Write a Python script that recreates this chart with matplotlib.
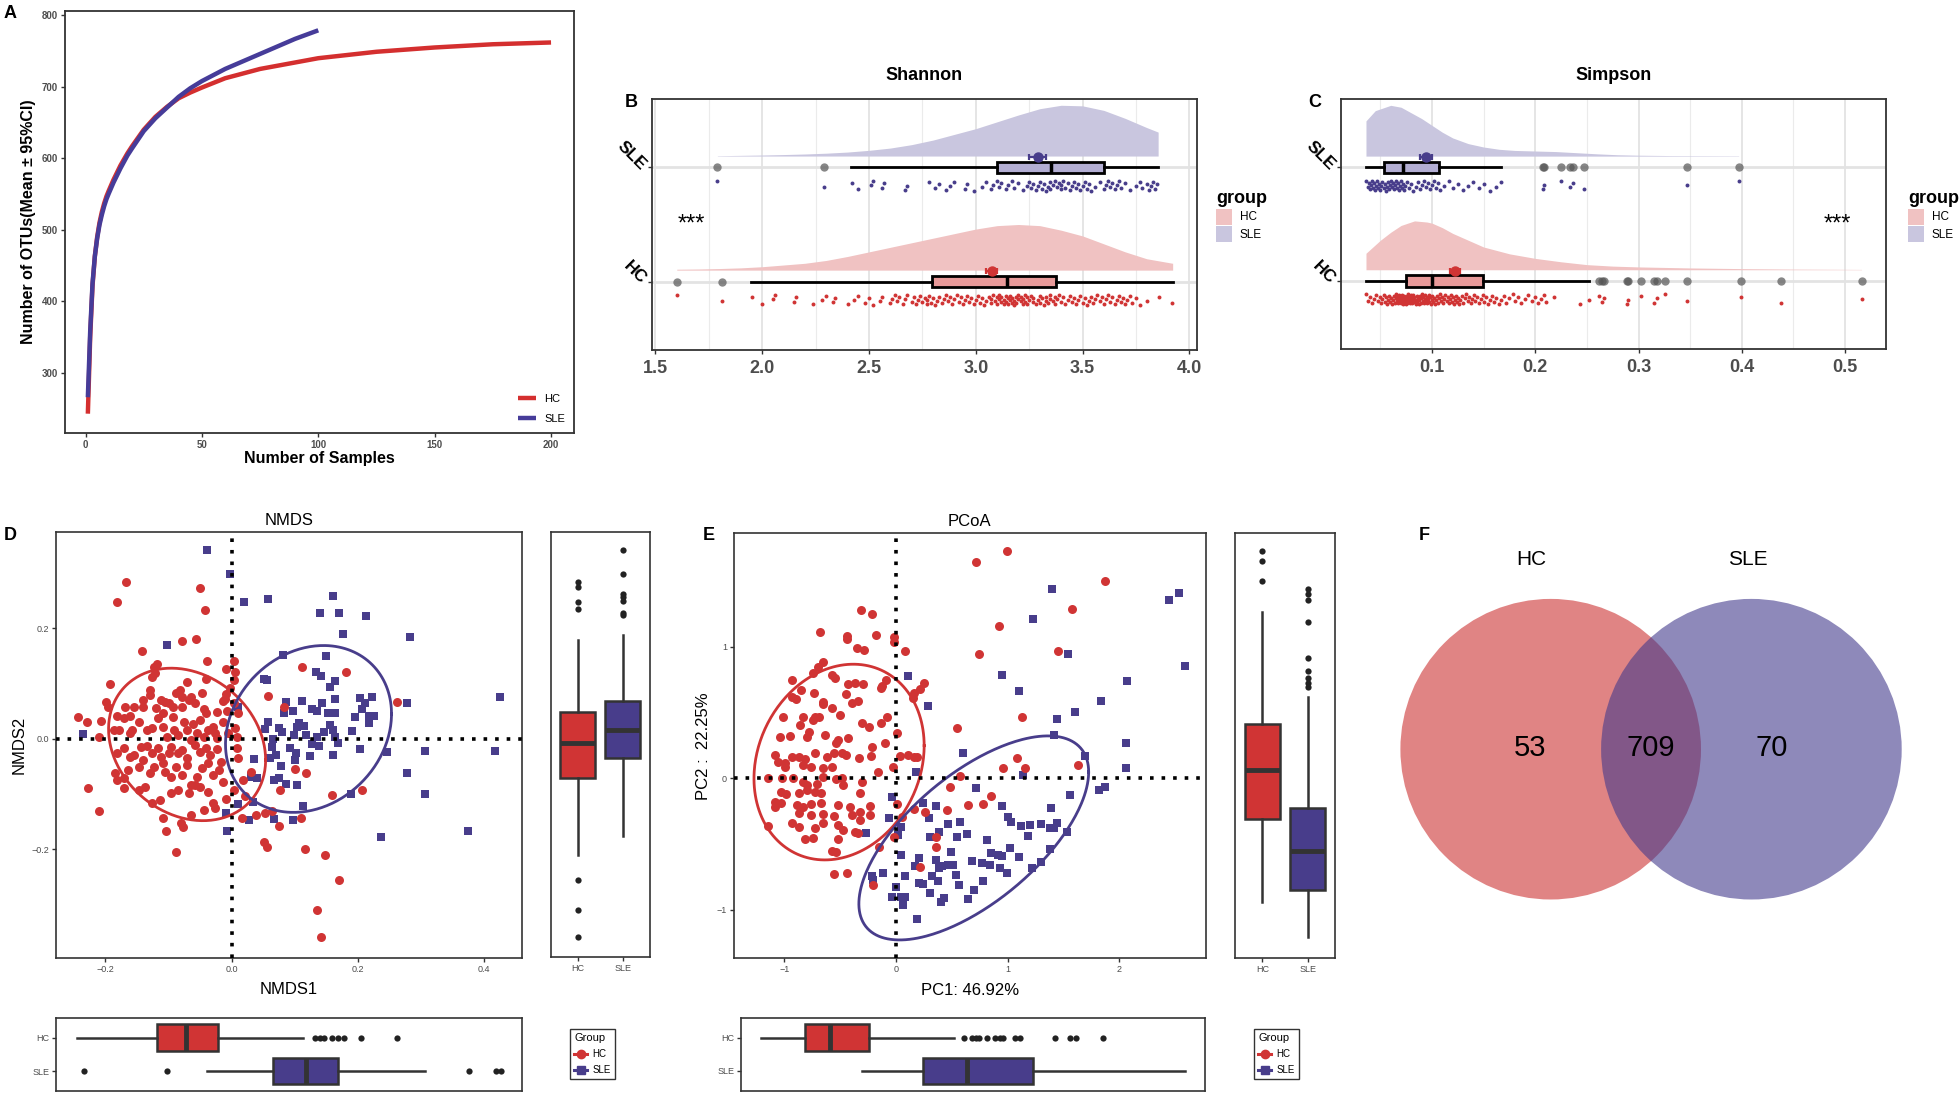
import numpy as np
import matplotlib
matplotlib.use('Agg')
import matplotlib.pyplot as plt
from matplotlib.patches import Patch, Circle
from matplotlib.lines import Line2D

plt.rcParams['font.family'] = ['Liberation Sans', 'DejaVu Sans']

# ---------------- DATA ----------------
groups = ['HC', 'SLE']

# A: rarefaction curves
rare_x_hc = [1, 2, 3, 4, 5, 6, 7, 8, 9, 10, 12, 15, 18, 20, 25, 30, 35, 40, 45, 50, 60, 75, 100, 125, 150,
             175, 200]
rare_hc = [243, 350, 422, 463, 490, 510, 525, 537, 547, 555, 570, 590, 607, 617, 640, 658, 672, 684, 692,
           699, 712, 725, 740, 749, 755, 759.5, 762]
rare_x_sle = [1, 2, 3, 4, 5, 6, 7, 8, 9, 10, 12, 15, 18, 20, 25, 30, 35, 40, 45, 50, 60, 75, 90, 100]
rare_sle = [266, 358, 425, 463, 488, 507, 521, 533, 543, 551, 566, 586, 604, 614, 638, 656, 671, 686, 698,
            708, 725, 746, 767, 779]

# B: Shannon
shannon_sle = [1.79, 2.29, 2.42, 2.45, 2.51, 2.52, 2.56, 2.57, 2.67, 2.68, 2.78, 2.81, 2.83, 2.86, 2.88,
               2.90, 2.95, 2.96, 2.99, 3.03, 3.05, 3.07, 3.08, 3.10, 3.11, 3.12, 3.14, 3.15, 3.17, 3.18,
               3.20, 3.22, 3.24, 3.25, 3.26, 3.27, 3.28, 3.29, 3.30, 3.31, 3.32, 3.33, 3.34, 3.35, 3.35,
               3.36, 3.37, 3.38, 3.39, 3.40, 3.40, 3.41, 3.42, 3.43, 3.44, 3.45, 3.46, 3.47, 3.48, 3.49,
               3.50, 3.51, 3.52, 3.53, 3.54, 3.56, 3.58, 3.60, 3.61, 3.62, 3.63, 3.64, 3.65, 3.66, 3.67,
               3.68, 3.70, 3.72, 3.75, 3.77, 3.78, 3.80, 3.81, 3.82, 3.83, 3.84, 3.85]
shannon_hc = [1.60, 1.81, 1.95, 2.00, 2.05, 2.06, 2.15, 2.16, 2.24, 2.28, 2.30, 2.33, 2.34, 2.40, 2.43,
              2.45, 2.48, 2.50, 2.52, 2.55, 2.56, 2.60, 2.61, 2.62, 2.63, 2.64, 2.66, 2.67, 2.68, 2.70,
              2.71, 2.72, 2.73, 2.74, 2.75, 2.76, 2.77, 2.77, 2.78, 2.79, 2.80, 2.81, 2.82, 2.83, 2.84,
              2.85, 2.86, 2.87, 2.88, 2.89, 2.90, 2.91, 2.92, 2.93, 2.94, 2.95, 2.96, 2.97, 2.98, 2.99,
              3.00, 3.01, 3.02, 3.03, 3.04, 3.05, 3.06, 3.07, 3.07, 3.08, 3.09, 3.10, 3.10, 3.11, 3.11,
              3.12, 3.12, 3.13, 3.13, 3.14, 3.14, 3.15, 3.15, 3.16, 3.16, 3.17, 3.17, 3.18, 3.18, 3.19,
              3.19, 3.20, 3.20, 3.21, 3.21, 3.22, 3.22, 3.23, 3.23, 3.24, 3.24, 3.25, 3.26, 3.27, 3.27,
              3.28, 3.29, 3.30, 3.30, 3.31, 3.32, 3.33, 3.33, 3.34, 3.35, 3.35, 3.36, 3.37, 3.37, 3.38,
              3.39, 3.40, 3.41, 3.42, 3.43, 3.44, 3.45, 3.46, 3.47, 3.48, 3.49, 3.50, 3.51, 3.52, 3.53,
              3.54, 3.55, 3.56, 3.57, 3.58, 3.59, 3.60, 3.61, 3.62, 3.63, 3.64, 3.65, 3.66, 3.67, 3.68,
              3.69, 3.70, 3.71, 3.72, 3.73, 3.75, 3.77, 3.80, 3.86, 3.92]
shannon_dens_x_sle = [1.79, 1.9, 2.0, 2.1, 2.2, 2.3, 2.4, 2.5, 2.6, 2.7, 2.8, 2.9, 3.0, 3.1, 3.2, 3.3, 3.4,
                      3.5, 3.6, 3.7, 3.8, 3.854]
shannon_dens_sle = [0.003, 0.006, 0.009, 0.013, 0.018, 0.025, 0.035, 0.05, 0.07, 0.10, 0.14, 0.19, 0.24,
                    0.30, 0.36, 0.415, 0.445, 0.44, 0.40, 0.33, 0.25, 0.21]
shannon_dens_x_hc = [1.60, 1.7, 1.8, 1.9, 2.0, 2.1, 2.2, 2.3, 2.4, 2.5, 2.6, 2.7, 2.8, 2.9, 3.0, 3.1, 3.2,
                     3.3, 3.4, 3.5, 3.6, 3.7, 3.8, 3.922]
shannon_dens_hc = [0.008, 0.01, 0.014, 0.02, 0.03, 0.045, 0.06, 0.085, 0.12, 0.16, 0.20, 0.24, 0.28, 0.32,
                   0.36, 0.39, 0.40, 0.39, 0.35, 0.30, 0.23, 0.16, 0.10, 0.06]
# box stats: whislo, q1, med, q3, whishi
shannon_box_hc = [1.946, 2.794, 3.144, 3.377, 3.922]
shannon_box_sle = [2.417, 3.10, 3.354, 3.60, 3.854]
shannon_out_hc = [1.60, 1.81]
shannon_out_sle = [1.79, 2.29]
shannon_mean = [3.075, 3.29]
shannon_err = [0.025, 0.04]

# C: Simpson
simpson_sle = [0.036, 0.038, 0.039, 0.040, 0.041, 0.042, 0.043, 0.044, 0.045, 0.046, 0.047, 0.048, 0.049,
               0.050, 0.051, 0.052, 0.053, 0.054, 0.055, 0.056, 0.057, 0.058, 0.059, 0.060, 0.061, 0.062,
               0.063, 0.064, 0.065, 0.066, 0.067, 0.068, 0.069, 0.070, 0.071, 0.072, 0.073, 0.074, 0.076,
               0.078, 0.080, 0.082, 0.084, 0.086, 0.088, 0.090, 0.092, 0.094, 0.096, 0.098, 0.100, 0.102,
               0.104, 0.106, 0.108, 0.112, 0.116, 0.120, 0.125, 0.130, 0.135, 0.140, 0.145, 0.150, 0.156,
               0.162, 0.167, 0.207, 0.208, 0.225, 0.234, 0.237, 0.247, 0.347, 0.397]
simpson_hc = [0.036, 0.038, 0.040, 0.042, 0.044, 0.046, 0.048, 0.050, 0.051, 0.052, 0.053, 0.054, 0.055,
              0.056, 0.057, 0.058, 0.059, 0.060, 0.061, 0.062, 0.063, 0.064, 0.065, 0.065, 0.066, 0.066,
              0.067, 0.068, 0.068, 0.069, 0.069, 0.070, 0.070, 0.071, 0.071, 0.072, 0.072, 0.073, 0.073,
              0.074, 0.074, 0.075, 0.075, 0.076, 0.076, 0.077, 0.077, 0.078, 0.078, 0.079, 0.079, 0.080,
              0.080, 0.081, 0.081, 0.082, 0.082, 0.083, 0.083, 0.084, 0.084, 0.085, 0.085, 0.086, 0.087,
              0.087, 0.088, 0.089, 0.089, 0.090, 0.091, 0.091, 0.092, 0.093, 0.093, 0.094, 0.095, 0.095,
              0.096, 0.097, 0.097, 0.098, 0.099, 0.100, 0.100, 0.101, 0.102, 0.103, 0.104, 0.105, 0.106,
              0.107, 0.108, 0.109, 0.110, 0.111, 0.112, 0.113, 0.114, 0.115, 0.116, 0.117, 0.118, 0.119,
              0.120, 0.121, 0.122, 0.123, 0.124, 0.125, 0.126, 0.127, 0.129, 0.130, 0.132, 0.133, 0.135,
              0.136, 0.138, 0.139, 0.141, 0.142, 0.144, 0.145, 0.147, 0.149, 0.150, 0.152, 0.154, 0.156,
              0.158, 0.160, 0.162, 0.165, 0.167, 0.170, 0.172, 0.175, 0.178, 0.180, 0.183, 0.186, 0.190,
              0.193, 0.197, 0.200, 0.203, 0.206, 0.208, 0.210, 0.218, 0.243, 0.252, 0.262, 0.265, 0.267,
              0.289, 0.290, 0.302, 0.315, 0.318, 0.326, 0.347, 0.399, 0.438, 0.516]
simpson_dens_x_sle = [0.036, 0.045, 0.06, 0.07, 0.08, 0.09, 0.1, 0.11, 0.12, 0.135, 0.15, 0.165, 0.18, 0.2,
                      0.22, 0.24, 0.26, 0.28, 0.3, 0.33, 0.36, 0.397]
simpson_dens_sle = [0.31, 0.40, 0.447, 0.43, 0.38, 0.33, 0.27, 0.21, 0.16, 0.11, 0.08, 0.06, 0.05, 0.045,
                    0.04, 0.03, 0.02, 0.012, 0.008, 0.005, 0.004, 0.003]
simpson_dens_x_hc = [0.036, 0.05, 0.06, 0.07, 0.083, 0.095, 0.1, 0.11, 0.12, 0.135, 0.15, 0.175, 0.2, 0.225,
                     0.25, 0.275, 0.3, 0.35, 0.4, 0.45, 0.516]
simpson_dens_hc = [0.145, 0.26, 0.33, 0.39, 0.43, 0.42, 0.41, 0.37, 0.32, 0.26, 0.20, 0.14, 0.10, 0.07,
                   0.045, 0.032, 0.025, 0.016, 0.01, 0.006, 0.003]
simpson_box_hc = [0.036, 0.075, 0.100, 0.149, 0.252]
simpson_box_sle = [0.036, 0.053, 0.072, 0.107, 0.167]
simpson_out_hc = [0.262, 0.265, 0.267, 0.289, 0.290, 0.302, 0.315, 0.318, 0.326, 0.347, 0.399, 0.438, 0.516]
simpson_out_sle = [0.207, 0.208, 0.225, 0.234, 0.237, 0.247, 0.347, 0.397]
simpson_mean = [0.122, 0.094]
simpson_err = [0.005, 0.006]

# D: NMDS (NMDS1, NMDS2)
nmds_sle = np.array([
    (-0.0385, 0.341), (-0.002, 0.2985), (0.0192, 0.2485), (0.057, 0.2533), (0.1615, 0.2593), (0.140, 0.2285),
    (0.1697, 0.2285), (0.2137, 0.2225), (0.1759, 0.190), (0.283, 0.1845), (-0.1024, 0.1694), (0.0818, 0.152),
    (0.149, 0.150), (0.0522, 0.1085), (0.0557, 0.1067), (0.1333, 0.1218), (0.1422, 0.114), (0.1642, 0.1055),
    (0.1553, 0.0935), (0.426, 0.0754), (0.278, 0.0657), (0.204, 0.0748), (0.2226, 0.0754), (0.2123, 0.0645),
    (0.0866, 0.0675), (0.112, 0.0687), (0.1436, 0.0657), (0.1635, 0.0724), (0.0103, 0.0585), (0.1278, 0.0543),
    (0.1347, 0.0513), (0.0976, 0.0513), (0.2068, 0.0543), (0.0838, 0.0476), (0.1532, 0.0464), (0.1642, 0.0464),
    (0.1951, 0.0392), (0.2178, 0.0422), (0.2253, 0.0422), (0.2178, 0.0295), (0.057, 0.0314), (0.0536, 0.0175),
    (0.0749, 0.0205), (0.1065, 0.0295), (0.1031, 0.0223), (0.1147, 0.0235), (0.1566, 0.0259), (0.1608, 0.0163),
    (0.1917, 0.0151), (0.0797, 0.0121), (0.1463, 0.0121), (-0.235, 0.0084), (0.0989, 0.0066), (0.1182, 0.0066),
    (0.1347, 0.0042), (0.1635, 0.0042), (0.169, -0.0078), (0.1388, -0.0127), (0.1278, -0.0096), (0.066, 0.0),
    (0.0639, -0.0151), (0.0934, -0.0169), (0.1017, -0.0259), (0.2034, -0.0175), (0.246, -0.0235),
    (0.3064, -0.0211), (0.4184, -0.0211), (0.035, -0.0356), (0.0605, -0.0344), (0.0708, -0.0295),
    (0.1244, -0.0302), (0.1615, -0.0283), (0.1003, -0.0386), (0.0783, -0.0482), (0.2776, -0.0621),
    (0.0309, -0.0681), (0.0398, -0.070), (0.068, -0.0742), (0.0749, -0.070), (0.0859, -0.0814),
    (0.1044, -0.0832), (0.3064, -0.1001), (0.1896, -0.1001), (0.0337, -0.1134), (0.0096, -0.1176),
    (0.1134, -0.1212), (-0.0096, -0.1333), (0.0282, -0.1465), (0.0673, -0.1447), (0.0982, -0.1459),
    (-0.0076, -0.1664), (0.2363, -0.1773), (0.3751, -0.1664)])
nmds_hc = np.array([
    (-0.1676, 0.2834), (-0.1814, 0.2484), (-0.0502, 0.2732), (-0.0426, 0.234), (-0.0783, 0.1779),
    (-0.0563, 0.1809), (-0.1415, 0.1592), (-0.0392, 0.1405), (-0.1182, 0.1357), (-0.1223, 0.1309),
    (-0.0096, 0.126), (0.0041, 0.1405), (0.0055, 0.1218), (0.0041, 0.1067), (0.1113, 0.1296), (0.1807, 0.1218),
    (-0.1924, 0.0995), (0.0584, 0.0784), (0.2624, 0.0675), (0.0831, 0.0573), (-0.2432, 0.0392), (-0.2295, 0.0302),
    (-0.2068, 0.0332), (-0.2102, 0.003), (-0.2274, -0.0886), (-0.2102, -0.1296), (-0.1092, -0.1435),
    (-0.1037, -0.1658), (-0.0797, -0.1526), (-0.0769, -0.1586), (-0.0879, -0.2056), (0.0522, -0.1857),
    (0.0557, -0.196), (0.1168, -0.1996), (0.1484, -0.211), (0.1704, -0.2557), (0.1347, -0.3105),
    (0.1415, -0.3594), (0.0749, -0.1574), (0.1099, -0.1435), (0.0536, -0.1345), (0.0385, -0.1375),
    (0.0158, -0.1435), (0.0639, -0.1309), (0.0763, -0.0917), (0.1182, -0.0621), (0.1003, -0.0549),
    (0.2061, -0.0923), (0.1594, -0.1019), (0.0103, -0.0338), (0.0089, -0.0163), (0.0082, 0.003), (0.0055, 0.0193),
    (0.0096, 0.0464), (0.0041, 0.0645), (-0.011, 0.073), (-0.0027, 0.0917), (-0.0096, 0.0808),
    (-0.1985, 0.0675), (-0.1951, 0.0585), (-0.1697, 0.0585), (-0.1539, 0.0585), (-0.1401, 0.0573),
    (-0.1298, 0.0886), (-0.1298, 0.0796), (-0.1264, 0.1128), (-0.1209, 0.1188), (-0.1113, 0.0706),
    (-0.1058, 0.0675), (-0.0886, 0.0826), (-0.0818, 0.0886), (-0.0783, 0.0766), (-0.0701, 0.1037),
    (-0.068, 0.0706), (-0.0646, 0.0754), (-0.0474, 0.0826), (-0.0405, 0.1079), (-0.044, 0.0537),
    (-0.0405, 0.0464), (-0.0234, 0.0494), (-0.0131, 0.0687), (-0.0076, 0.0507), (-0.1869, 0.0163),
    (-0.1779, 0.0163), (-0.1608, 0.0103), (-0.1573, 0.0163), (-0.147, 0.0314), (-0.1333, 0.0163),
    (-0.1264, 0.0193), (-0.1161, 0.0374), (-0.1092, 0.0223), (-0.1024, 0.0042), (-0.0921, 0.0404),
    (-0.0907, 0.0163), (-0.0852, 0.0072), (-0.0749, 0.0314), (-0.0714, 0.0163), (-0.0646, -0.0018),
    (-0.0611, 0.0271), (-0.0543, 0.0103), (-0.0508, 0.0344), (-0.044, 0.0042), (-0.0371, 0.0163),
    (-0.0302, 0.0223), (-0.0268, 0.0103), (-0.0234, 0.0012), (-0.0131, 0.0314), (-0.0062, 0.0103),
    (-0.1814, -0.0259), (-0.1711, -0.0169), (-0.1608, -0.032), (-0.1539, -0.0289), (-0.1436, -0.0139),
    (-0.1333, -0.0127), (-0.1264, -0.0259), (-0.1161, -0.0169), (-0.1113, -0.032), (-0.0989, -0.0259),
    (-0.0955, -0.0139), (-0.0852, -0.0247), (-0.0783, -0.0199), (-0.0714, -0.035), (-0.0577, -0.0109),
    (-0.0495, -0.0229), (-0.0405, -0.0169), (-0.0337, -0.0289), (-0.0234, -0.0187), (-0.0165, -0.041),
    (-0.1848, -0.0621), (-0.1814, -0.0742), (-0.1711, -0.0712), (-0.1642, -0.0561), (-0.147, -0.05),
    (-0.1401, -0.038), (-0.1298, -0.0621), (-0.123, -0.05), (-0.1092, -0.044), (-0.1058, -0.0591),
    (-0.0955, -0.0681), (-0.0886, -0.05), (-0.0783, -0.0651), (-0.0714, -0.047), (-0.0646, -0.0832),
    (-0.0543, -0.0681), (-0.0474, -0.0531), (-0.0371, -0.044), (-0.0302, -0.0651), (-0.0199, -0.0561),
    (-0.0131, -0.0772), (-0.1711, -0.0892), (-0.147, -0.0923), (-0.1367, -0.0862), (-0.1264, -0.1164),
    (-0.1127, -0.1103), (-0.0955, -0.0983), (-0.0852, -0.0923), (-0.068, -0.0983), (-0.0577, -0.0832),
    (-0.0508, -0.0862), (-0.0371, -0.0953), (-0.0302, -0.1164), (-0.0268, -0.1254), (-0.0096, -0.1091),
    (0.0041, -0.0923), (0.0179, -0.0742), (0.0213, -0.1031), (0.0302, -0.0591), (-0.0646, -0.1375),
    (-0.044, -0.1284), (-0.1092, 0.0464), (-0.0989, 0.0657), (-0.0783, 0.0585), (-0.0577, 0.0645),
    (-0.0921, 0.0585), (-0.1401, 0.0706), (-0.1196, 0.0555), (-0.1814, 0.0416), (-0.1608, 0.0416),
    (-0.1711, 0.0374)])
# ellipse centre and shape matrix (stat_ellipse)
nmds_ell_center = [(-0.0705, -0.010), (0.122, 0.018)]
nmds_ell_shape = [[[0.0155, -0.00347], [-0.00347, 0.01904]], [[0.01732, 0.0036], [0.0036, 0.0228]]]
nmds2_box = {'HC': [-0.212, -0.0724, -0.0078, 0.0477, 0.179], 'SLE': [-0.177, -0.0362, 0.0151, 0.0682, 0.188]}
nmds2_out = {'HC': [0.2836, 0.2745, 0.2474, 0.2341, -0.2564, -0.3107, -0.3596],
             'SLE': [0.341, 0.299, 0.262, 0.256, 0.25, 0.227, 0.223]}
nmds1_box = {'HC': [-0.2447, -0.1182, -0.0715, -0.022, 0.114], 'SLE': [-0.0385, 0.066, 0.1175, 0.168, 0.3065]}
nmds1_out = {'HC': [0.133, 0.140, 0.147, 0.159, 0.168, 0.179, 0.205, 0.262],
             'SLE': [-0.234, -0.1017, 0.377, 0.4186, 0.4268]}

# E: PCoA (PC1, PC2)
pcoa_hc = np.array([
    (0.995, 1.722), (0.713, 1.643), (1.873, 1.499), (1.580, 1.284), (0.922, 1.157), (-0.311, 1.279),
    (-0.219, 1.248), (-0.680, 1.112), (-0.439, 1.081), (-0.443, 1.056), (-0.176, 1.086), (-0.348, 0.987),
    (-0.289, 0.972), (-0.022, 1.038), (0.077, 0.967), (0.743, 0.942), (1.449, 0.970), (1.127, 0.468),
    (0.549, 0.382), (1.086, 0.157), (0.958, 0.081), (1.152, 0.081), (1.628, 0.101), (0.574, 0.020),
    (0.483, -0.068), (0.849, -0.134), (0.647, -0.203), (0.775, -0.197), (0.457, -0.241), (0.157, -0.233),
    (0.263, -0.253), (0.362, -0.448), (0.355, -0.519), (0.219, -0.676), (-0.154, -0.524), (-0.022, -0.443),
    (-0.205, -0.810), (-0.560, -0.727), (-0.439, -0.722), (-1.145, -0.362), (0.249, 0.724), (0.219, 0.676),
    (0.161, 0.646), (0.154, 0.608), (0.106, 0.177), (0.165, 0.165), (0.190, 0.160), (0.037, 0.170),
    (-0.029, 0.089), (-0.165, 0.051), (0.007, -0.195), (0.055, -0.296), (-0.015, 1.076),
    (-0.655, 0.879), (-0.702, 0.843), (-0.743, 0.798), (-0.578, 0.785), (-0.549, 0.765), (-0.933, 0.747),
    (-0.432, 0.714), (-0.366, 0.727), (-0.293, 0.717), (-0.139, 0.684), (-0.124, 0.701), (-0.091, 0.747),
    (-0.852, 0.671), (-0.732, 0.646), (-0.450, 0.638), (-0.900, 0.600), (-0.936, 0.620), (-0.651, 0.582),
    (-0.658, 0.565), (-0.395, 0.575), (-0.337, 0.587), (-0.574, 0.532), (-0.501, 0.481), (-0.834, 0.468),
    (-1.010, 0.468), (-0.743, 0.443), (-0.724, 0.463), (-0.688, 0.468), (-0.304, 0.423), (-0.241, 0.392),
    (-0.132, 0.423), (-0.084, 0.468), (-0.860, 0.405), (-0.779, 0.352), (-0.797, 0.316), (-1.039, 0.311),
    (-0.951, 0.322), (-0.633, 0.329), (-0.523, 0.291), (-0.538, 0.266), (-0.432, 0.304), (-0.212, 0.235),
    (-0.102, 0.266), (0.007, 0.342), (-1.083, 0.177), (-0.933, 0.165), (-0.871, 0.160), (-0.816, 0.144),
    (-0.724, 0.190), (-0.615, 0.165), (-0.560, 0.195), (-0.487, 0.190), (-0.450, 0.177), (-0.329, 0.152),
    (-0.227, 0.170), (-1.054, 0.127), (-0.999, 0.114), (-0.834, 0.101), (-0.761, 0.089), (-0.651, 0.076),
    (-0.578, 0.089), (-0.487, 0.0), (-1.149, 0.005), (-1.024, 0.0), (-0.925, 0.0), (-0.834, -0.025),
    (-0.797, -0.051), (-0.706, -0.043), (-0.651, 0.008), (-0.541, -0.008), (-0.476, -0.051), (-0.304, -0.025),
    (-1.035, -0.101), (-0.988, -0.119), (-0.871, -0.109), (-0.797, -0.089), (-0.724, -0.101),
    (-0.669, -0.114), (-0.322, -0.114), (-1.083, -0.177), (-1.028, -0.185), (-0.889, -0.203),
    (-0.834, -0.215), (-0.761, -0.195), (-0.669, -0.190), (-0.523, -0.203), (-0.413, -0.215),
    (-0.230, -0.210), (-0.322, -0.253), (-1.083, -0.215), (-0.871, -0.266), (-0.761, -0.279),
    (-0.651, -0.271), (-0.560, -0.286), (-0.395, -0.279), (-0.230, -0.279), (-0.936, -0.342),
    (-0.871, -0.372), (-0.724, -0.380), (-0.651, -0.342), (-0.523, -0.354), (-0.476, -0.392),
    (-0.366, -0.405), (-0.340, -0.413), (-0.816, -0.463), (-0.743, -0.456), (-0.523, -0.463),
    (-0.571, -0.549), (-0.541, -0.557), (-0.322, -0.317), (-0.999, 0.089)])
pcoa_sle = np.array([
    (1.394, 1.436), (2.535, 1.403), (2.447, 1.355), (1.225, 1.208), (1.544, 0.947), (2.590, 0.853),
    (0.951, 0.787), (0.106, 0.777), (2.070, 0.739), (1.105, 0.663), (0.289, 0.547), (1.833, 0.587),
    (1.602, 0.504), (1.438, 0.451), (1.416, 0.327), (2.063, 0.268), (0.596, 0.195), (1.690, 0.167),
    (2.059, 0.076), (0.183, 0.051), (1.134, 0.023), (1.818, -0.086), (1.877, -0.068), (0.713, -0.076),
    (1.555, -0.129), (-0.033, -0.139), (0.241, -0.185), (0.362, -0.210), (0.947, -0.210), (1.390, -0.228),
    (0.296, -0.304), (1.006, -0.291), (1.032, -0.329), (1.123, -0.362), (1.196, -0.354), (1.295, -0.347),
    (1.379, -0.380), (1.441, -0.342), (1.416, -0.380), (1.529, -0.410), (0.465, -0.347), (0.571, -0.334),
    (0.048, -0.367), (-0.059, -0.304), (-0.267, -0.418), (0.022, -0.433), (0.384, -0.405), (0.549, -0.448),
    (0.307, -0.448), (0.633, -0.425), (0.819, -0.468), (1.021, -0.527), (1.379, -0.539), (0.044, -0.582),
    (0.209, -0.608), (0.494, -0.557), (0.358, -0.620), (0.680, -0.628), (0.768, -0.646), (0.849, -0.570),
    (0.911, -0.585), (0.951, -0.590), (1.105, -0.595), (1.295, -0.633), (1.222, -0.679), (0.168, -0.666),
    (0.084, -0.742), (0.322, -0.739), (0.384, -0.684), (0.413, -0.666), (0.468, -0.658), (0.512, -0.656),
    (0.541, -0.734), (0.933, -0.684), (0.995, -0.722), (0.841, -0.658), (-0.121, -0.717), (-0.219, -0.742),
    (-0.209, -0.772), (0.205, -0.793), (0.245, -0.803), (0.380, -0.780), (0.567, -0.810), (0.779, -0.780),
    (0.702, -0.848), (0.304, -0.874), (0.432, -0.906), (0.399, -0.942), (0.647, -0.917), (-0.004, -0.828),
    (-0.033, -0.899), (0.044, -0.899), (0.080, -0.904), (0.066, -0.962), (0.190, -1.069), (1.185, -0.436),
    (1.203, -0.354)])
pcoa_ell_center = [(-0.5105, 0.123), (0.6965, -0.453)]
pcoa_ell_shape = [[[0.5814, 0.095], [0.095, 0.552]], [[1.060, 0.515], [0.515, 0.600]]]
pc2_box = {'HC': [-0.937, -0.309, 0.063, 0.4127, 1.261], 'SLE': [-1.208, -0.848, -0.552, -0.228, 0.620]}
pc2_out = {'HC': [1.729, 1.646, 1.496], 'SLE': [1.435, 1.40, 1.354, 1.19, 0.911, 0.818, 0.759, 0.727, 0.696]}
pc1_box = {'HC': [-1.269, -0.870, -0.640, -0.291, 0.491], 'SLE': [-0.353, 0.203, 0.609, 1.203, 2.591]}
pc1_out = {'HC': [0.579, 0.655, 0.686, 0.713, 0.790, 0.859, 0.905, 0.935, 1.039, 1.088, 1.403, 1.545,
                  1.595, 1.844], 'SLE': []}

# F: Venn counts
venn_sets = ['HC', 'SLE']
venn_counts = [53, 709, 70]

# ---------------- STYLE ----------------
W, H = 1960, 1095
fig = plt.figure(figsize=(W / 100, H / 100), dpi=100)

RED = '#D03434'
BLUE = '#483D8B'
GREY_T = '#4D4D4D'
FRAME = '#333333'


def axpx(l, t, r, b):
    return fig.add_axes([l / W, 1 - b / H, (r - l) / W, (b - t) / H])


def letter(x, y, s):
    fig.text(x / W, 1 - y / H, s, fontsize=13, fontweight='bold', ha='center', va='center')


def frame(ax, lw=1.2, color=FRAME):
    for sp in ax.spines.values():
        sp.set_linewidth(lw)
        sp.set_color(color)


def bstats(v, fl):
    return dict(whislo=v[0], q1=v[1], med=v[2], q3=v[3], whishi=v[4], fliers=fl)


def draw_bxp(ax, stats, pos, width, horizontal, faces, lw=1.8, medlw=3.5, flier_ms=4.5,
             flier_color='#222222', edge=FRAME, flier_alpha=1.0):
    kw = dict(positions=pos, widths=width, patch_artist=True, showcaps=False,
              boxprops=dict(linewidth=lw, edgecolor=edge),
              medianprops=dict(color=edge, linewidth=medlw, solid_capstyle='butt'),
              whiskerprops=dict(color=edge, linewidth=lw),
              flierprops=dict(marker='o', markerfacecolor=flier_color, markeredgecolor='none',
                              markersize=flier_ms, alpha=flier_alpha))
    try:
        art = ax.bxp(stats, orientation='horizontal' if horizontal else 'vertical', **kw)
    except TypeError:
        art = ax.bxp(stats, vert=not horizontal, **kw)
    for b, f in zip(art['boxes'], faces):
        b.set_facecolor(f)
    return art


# ---------------- A ----------------
axA = axpx(64.7, 11, 574.2, 433)
axA.plot(rare_x_hc, rare_hc, color='#D42F2F', lw=3.2, label='HC', solid_capstyle='butt')
axA.plot(rare_x_sle, rare_sle, color='#463C99', lw=3.2, label='SLE', solid_capstyle='butt')
axA.set_xlim(-8.95, 209.95)
axA.set_ylim(216, 806)
axA.set_xticks([0, 50, 100, 150, 200])
axA.set_yticks([300, 400, 500, 600, 700, 800])
axA.tick_params(labelsize=7, labelcolor=GREY_T, length=3, width=1, color=FRAME, pad=2)
for lb in axA.get_xticklabels() + axA.get_yticklabels():
    lb.set_fontweight('bold')
frame(axA, 1.3)
axA.set_xlabel('Number of Samples', fontsize=11.5, fontweight='bold', labelpad=1)
axA.set_ylabel('Number of OTUs(Mean ± 95%CI)', fontsize=11.5, fontweight='bold', labelpad=4)
axA.legend(loc='lower right', frameon=False, fontsize=8, handlelength=1.6, borderaxespad=0.4,
           labelspacing=0.9)
letter(10, 14, 'A')


# ---------------- B / C raincloud ----------------
def raincloud(ax, vals, dens_x, dens, boxes, outs, means, errs, xlim, xticks, minor, cols_fill, cols_box,
              cols_pt):
    ax.set_axisbelow(True)
    for x in xticks:
        ax.axvline(x, color='#E3E3E3', lw=1.3, zorder=0)
    for x in minor:
        ax.axvline(x, color='#EBEBEB', lw=0.8, zorder=0)
    for cat in (1, 2):
        ax.axhline(cat, color='#E3E3E3', lw=2.0, zorder=0)
    for k, cat in enumerate((1, 2)):
        dx = np.array(dens_x[k])
        dh = np.array(dens[k])
        ax.fill_between(dx, cat + 0.1, cat + 0.1 + dh, color=cols_fill[k], lw=0, zorder=1)
        v = np.array(vals[k])
        i = np.arange(len(v))
        yj = cat - 0.115 - 0.09 * (((i * 37) % 23) / 22.0)
        ax.scatter(v, yj, s=8, color=cols_pt[k], lw=0, zorder=2)
    stats = [bstats(boxes[0], outs[0]), bstats(boxes[1], outs[1])]
    draw_bxp(ax, stats, [1, 2], 0.1, True, cols_box, lw=2.0, medlw=2.5, flier_ms=6,
             flier_color='#555555', edge='black', flier_alpha=0.7)
    for k, cat in enumerate((1, 2)):
        ax.errorbar(means[k], cat + 0.093, xerr=errs[k], fmt='o', color=cols_pt[k], ms=6.5,
                    elinewidth=1.6, capsize=2.5, capthick=1.6, zorder=5)
    ax.set_xlim(*xlim)
    ax.set_ylim(0.4, 2.6)
    ax.set_xticks(xticks)
    ax.set_yticks([1, 2])
    ax.set_yticklabels(groups, rotation=-45, fontsize=12.5, fontweight='bold', ha='right', va='center',
                       rotation_mode='anchor')
    ax.tick_params(axis='x', labelsize=13, labelcolor=GREY_T, length=3, width=1, color=FRAME, pad=4)
    ax.tick_params(axis='y', length=3, width=1, color=FRAME, pad=3)
    for lb in ax.get_xticklabels():
        lb.set_fontweight('bold')
    frame(ax, 1.3)


fill_cols = ['#F0C2C2', '#C9C6DF']
box_cols = ['#E89A9A', '#B3AED3']
pt_cols = [RED, BLUE]

axB = axpx(652, 99, 1197, 350)
raincloud(axB, [shannon_hc, shannon_sle], [shannon_dens_x_hc, shannon_dens_x_sle],
          [shannon_dens_hc, shannon_dens_sle], [shannon_box_hc, shannon_box_sle],
          [shannon_out_hc, shannon_out_sle], shannon_mean, shannon_err, (1.484, 4.036),
          [1.5, 2.0, 2.5, 3.0, 3.5, 4.0], [1.75, 2.25, 2.75, 3.25, 3.75], fill_cols, box_cols, pt_cols)
axB.text(1.67, 1.5, '***', fontsize=17, ha='center', va='center')
axB.set_title('Shannon', fontsize=13, fontweight='bold', pad=14)
letter(631, 102, 'B')

axC = axpx(1341.2, 99.3, 1886.3, 349.3)
raincloud(axC, [simpson_hc, simpson_sle], [simpson_dens_x_hc, simpson_dens_x_sle],
          [simpson_dens_hc, simpson_dens_sle], [simpson_box_hc, simpson_box_sle],
          [simpson_out_hc, simpson_out_sle], simpson_mean, simpson_err, (0.012, 0.540),
          [0.1, 0.2, 0.3, 0.4, 0.5], [0.05, 0.15, 0.25, 0.35, 0.45], fill_cols, box_cols, pt_cols)
axC.text(0.493, 1.5, '***', fontsize=17, ha='center', va='center')
axC.set_title('Simpson', fontsize=13, fontweight='bold', pad=14)
letter(1315, 102, 'C')

for lx in (1210, 1902):
    fig.legend(handles=[Patch(facecolor=fill_cols[0]), Patch(facecolor=fill_cols[1])], labels=groups,
               title='group', loc='upper left', bbox_to_anchor=(lx / W, 1 - 184 / H), frameon=False,
               fontsize=8.5, title_fontproperties={'weight': 'bold', 'size': 13}, handlelength=1.4,
               handleheight=1.7, labelspacing=0.15, borderpad=0, handletextpad=0.6,
               alignment='left')


# ---------------- D / E ordination ----------------
def draw_ellipse(ax, c, shape, color):
    L = np.linalg.cholesky(np.array(shape))
    t = np.linspace(0, 2 * np.pi, 300)
    pts = np.array(c)[:, None] + L @ np.vstack([np.cos(t), np.sin(t)])
    ax.plot(pts[0], pts[1], color=color, lw=2.0, zorder=3)


def small_ticks(ax):
    ax.tick_params(labelsize=6.5, labelcolor=GREY_T, length=3, width=1, color=FRAME, pad=2)


def ordination(ax, hc, sle, centers, shapes, xlim, ylim, xticks, yticks, title, xlabel, ylabel):
    ax.scatter(sle[:, 0], sle[:, 1], s=32, marker='s', color=BLUE, lw=0, zorder=2)
    ax.scatter(hc[:, 0], hc[:, 1], s=42, marker='o', color=RED, lw=0, zorder=2)
    draw_ellipse(ax, centers[0], shapes[0], RED)
    draw_ellipse(ax, centers[1], shapes[1], BLUE)
    ax.axvline(0, color='black', lw=2.6, ls=(0, (1, 2.2)), zorder=4)
    ax.axhline(0, color='black', lw=2.6, ls=(0, (1, 2.2)), zorder=4)
    ax.set_xlim(*xlim)
    ax.set_ylim(*ylim)
    ax.set_xticks(xticks)
    ax.set_yticks(yticks)
    small_ticks(ax)
    frame(ax, 1.2)
    ax.set_title(title, fontsize=12, pad=5)
    ax.set_xlabel(xlabel, fontsize=12, labelpad=6)
    ax.set_ylabel(ylabel, fontsize=12, labelpad=4)


def side_boxes(ax_r, ax_b, ystats, youts, xstats, youtsx, xlim, ylim):
    st = [bstats(ystats['HC'], youts['HC']), bstats(ystats['SLE'], youts['SLE'])]
    draw_bxp(ax_r, st, [1, 2], 0.78, False, [RED, BLUE])
    ax_r.set_xlim(0.4, 2.6)
    ax_r.set_ylim(*ylim)
    ax_r.set_xticks([1, 2])
    ax_r.set_xticklabels(groups)
    ax_r.set_yticks([])
    small_ticks(ax_r)
    frame(ax_r, 1.2)
    st2 = [bstats(xstats['HC'], youtsx['HC']), bstats(xstats['SLE'], youtsx['SLE'])]
    draw_bxp(ax_b, st2, [2, 1], 0.8, True, [RED, BLUE])
    ax_b.set_ylim(0.4, 2.6)
    ax_b.set_xlim(*xlim)
    ax_b.set_yticks([2, 1])
    ax_b.set_yticklabels(groups)
    ax_b.set_xticks([])
    small_ticks(ax_b)
    frame(ax_b, 1.2)


def group_legend(x, y):
    hs = [Line2D([], [], color=RED, marker='o', lw=2.2, ms=6),
          Line2D([], [], color=BLUE, marker='s', lw=2.2, ms=5.5)]
    leg = fig.legend(handles=hs, labels=groups, title='Group', loc='upper left',
                     bbox_to_anchor=(x / W, 1 - y / H), frameon=True, fancybox=False, fontsize=7,
                     title_fontsize=8, handlelength=1.3, borderpad=0.45, labelspacing=0.6,
                     handletextpad=0.6, alignment='left')
    leg.get_frame().set_edgecolor('black')
    leg.get_frame().set_linewidth(1.0)


xlimD = (-0.2777, 0.46)
ylimD = (-0.396, 0.375)
axD = axpx(56.4, 531.7, 521.7, 957.7)
ordination(axD, nmds_hc, nmds_sle, nmds_ell_center, nmds_ell_shape, xlimD, ylimD,
           [-0.2, 0.0, 0.2, 0.4], [-0.2, 0.0, 0.2], 'NMDS', 'NMDS1', 'NMDS2')
axDr = axpx(550.7, 531.7, 649.6, 956.7)
axDb = axpx(56.4, 1017.7, 521.7, 1091)
side_boxes(axDr, axDb, nmds2_box, nmds2_out, nmds1_box, nmds1_out, xlimD, ylimD)
group_legend(565, 1024)
letter(10, 535, 'D')

xlimE = (-1.453, 2.775)
ylimE = (-1.367, 1.86)
axE = axpx(733.9, 533.3, 1205.7, 958.3)
ordination(axE, pcoa_hc, pcoa_sle, pcoa_ell_center, pcoa_ell_shape, xlimE, ylimE,
           [-1, 0, 1, 2], [-1, 0, 1], 'PCoA', 'PC1: 46.92%', 'PC2 :  22.25%')
axEr = axpx(1235, 533.3, 1335, 958.3)
axEb = axpx(741, 1017.7, 1205.3, 1090.7)
side_boxes(axEr, axEb, pc2_box, pc2_out, pc1_box, pc1_out, xlimE, ylimE)
group_legend(1249, 1024)
letter(709, 535, 'E')

# ---------------- F Venn ----------------
axF = axpx(1380, 500, 1960, 930)
axF.set_xlim(0, 580)
axF.set_ylim(430, 0)
axF.axis('off')
venn_pos = [(170.7, 249.2), (371.4, 249.2)]
venn_cols = ['#CC3333', '#433A8C']
for (cx, cy), col in zip(venn_pos, venn_cols):
    axF.add_patch(Circle((cx, cy), 150.3, facecolor=col, alpha=0.6, edgecolor='none'))
axF.text(151.7, 59.5, venn_sets[0], fontsize=15, ha='center', va='center')
axF.text(368, 59.5, venn_sets[1], fontsize=15, ha='center', va='center')
for xx, cnt in zip([149.8, 271.2, 391.4], venn_counts):
    axF.text(xx, 248.5, str(cnt), fontsize=21, ha='center', va='center')
letter(1424, 535, 'F')

fig.savefig('out.png', dpi=100)
